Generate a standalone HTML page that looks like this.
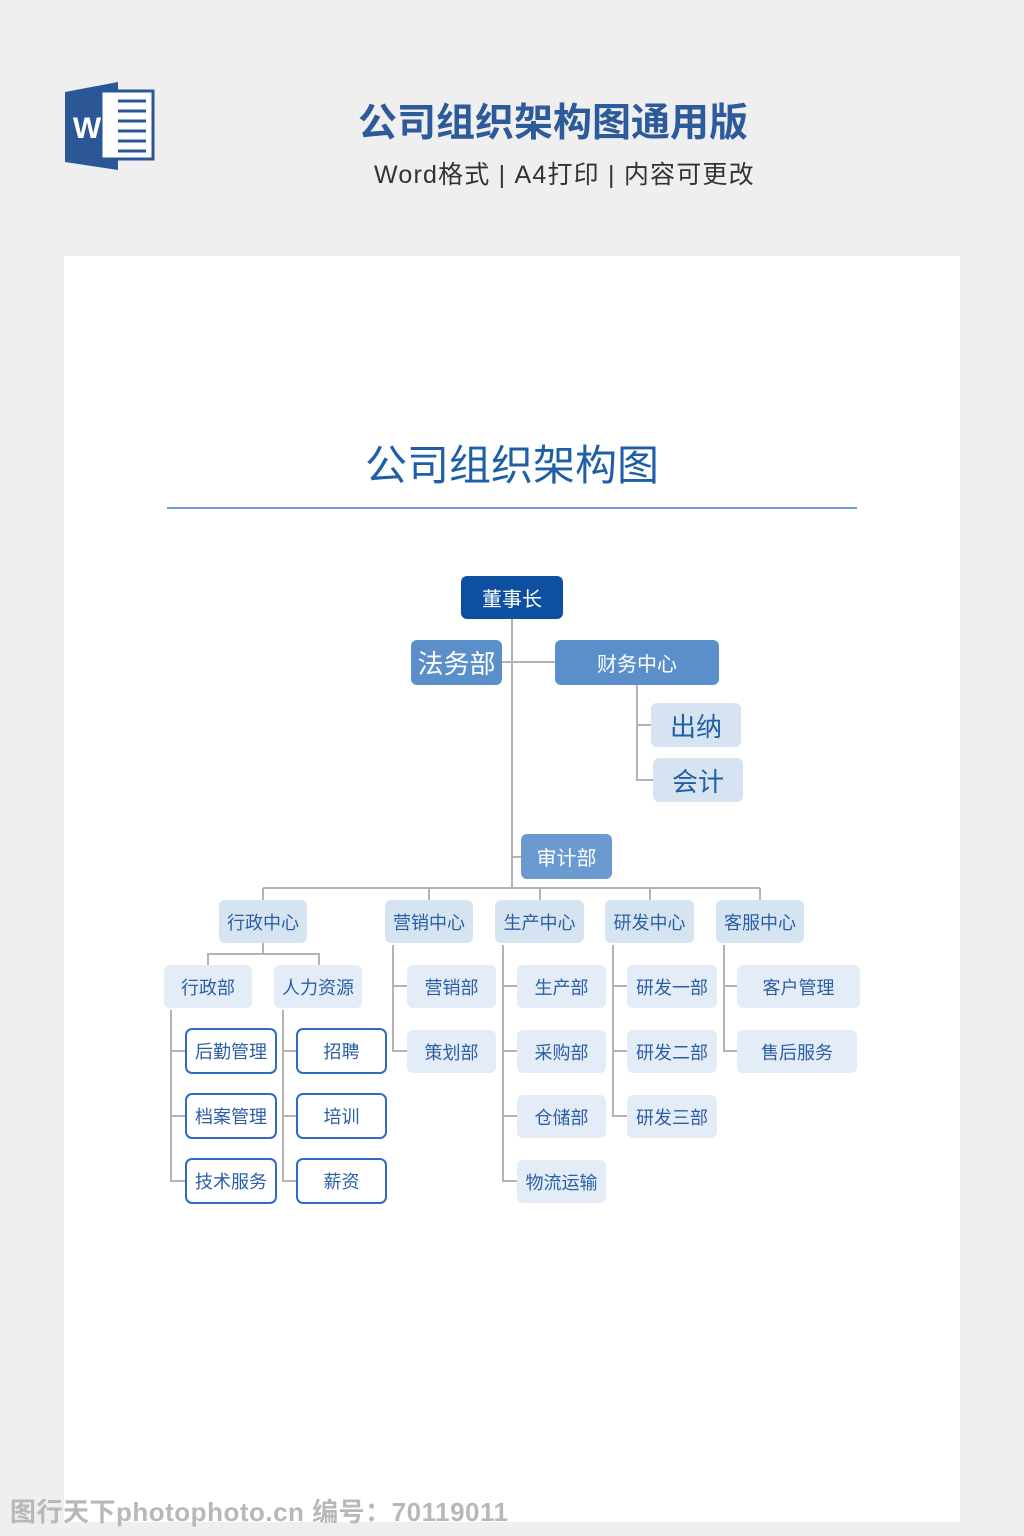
<!DOCTYPE html>
<html><head><meta charset="utf-8"><style>
*{margin:0;padding:0;box-sizing:border-box}
body{width:1024px;height:1536px;background:#efefef;position:relative;overflow:hidden;font-family:"Liberation Sans","Noto Sans CJK SC",sans-serif}
.a{position:absolute}
.b{position:absolute;display:flex;align-items:center;justify-content:center;border-radius:6px;font-size:18px;white-space:nowrap}
.c{background:#d6e4f2;color:#2b5fa5}
.l{background:#e4edf7;color:#2b5fa5}
.o{background:#fff;border:2px solid #2f6cc0;color:#2b5fa5;border-radius:7px}
</style></head><body>
<svg class="a" style="left:0;top:0" width="1024" height="1536">
<polygon points="65,92 118,82 118,170 65,162" fill="#2b5797"/>
<rect x="101" y="91" width="52" height="68" fill="#fff" stroke="#2b5797" stroke-width="3"/>
<g stroke="#2b5797" stroke-width="3"><line x1="118" y1="101" x2="146" y2="101"/><line x1="118" y1="111" x2="146" y2="111"/><line x1="118" y1="121" x2="146" y2="121"/><line x1="118" y1="131" x2="146" y2="131"/><line x1="118" y1="141" x2="146" y2="141"/><line x1="118" y1="151" x2="146" y2="151"/></g>
<text x="87" y="138" font-family="Liberation Sans" font-weight="bold" font-size="30" fill="#fff" text-anchor="middle">W</text>
<rect x="64" y="256" width="896" height="1266" fill="#fff"/>
<line x1="167" y1="508" x2="857" y2="508" stroke="#3b7cc4" stroke-width="1.5"/>
<g stroke="#b4b4b4" stroke-width="2" fill="none">
<line x1="512" y1="619" x2="512" y2="888"/>
<line x1="502" y1="662" x2="555" y2="662"/>
<polyline points="637,685 637,780 653,780"/><line x1="637" y1="725" x2="651" y2="725"/>
<line x1="512" y1="857" x2="521" y2="857"/>
<line x1="263" y1="888" x2="760" y2="888"/>
<line x1="263" y1="888" x2="263" y2="900"/><line x1="429" y1="888" x2="429" y2="900"/><line x1="540" y1="888" x2="540" y2="900"/><line x1="650" y1="888" x2="650" y2="900"/><line x1="760" y1="888" x2="760" y2="900"/>
<line x1="263" y1="943" x2="263" y2="954"/><polyline points="208,965 208,954 319,954 319,965"/>
<polyline points="393,945 393,1051 407,1051"/><line x1="393" y1="986" x2="407" y2="986"/>
<polyline points="503,945 503,1181 517,1181"/><line x1="503" y1="986" x2="517" y2="986"/><line x1="503" y1="1051" x2="517" y2="1051"/><line x1="503" y1="1116" x2="517" y2="1116"/>
<polyline points="613,945 613,1116 627,1116"/><line x1="613" y1="986" x2="627" y2="986"/><line x1="613" y1="1051" x2="627" y2="1051"/>
<polyline points="724,945 724,1051 737,1051"/><line x1="724" y1="986" x2="737" y2="986"/>
<polyline points="171,1010 171,1181 185,1181"/><line x1="171" y1="1051" x2="185" y2="1051"/><line x1="171" y1="1116" x2="185" y2="1116"/>
<polyline points="283,1010 283,1181 296,1181"/><line x1="283" y1="1051" x2="296" y2="1051"/><line x1="283" y1="1116" x2="296" y2="1116"/>
</g>
</svg>
<div class="a" style="left:358px;top:92px;font-size:39px;color:#2c5a9a;font-weight:bold;letter-spacing:0px">公司组织架构图通用版</div>
<div class="a" style="left:374px;top:155px;font-size:25px;color:#333;letter-spacing:1.2px">Word格式 | A4打印 | 内容可更改</div>
<div class="a" style="left:0;width:1024px;text-align:center;top:432px;font-size:42px;color:#1f5fa8">公司组织架构图</div>

<div class="b" style="left:461px;top:576px;width:102px;height:43px;background:#0d4fa0;color:#fff;font-size:20px">董事长</div>
<div class="b" style="left:411px;top:640px;width:91px;height:45px;background:#5b8fca;color:#fff;font-size:26px">法务部</div>
<div class="b" style="left:555px;top:640px;width:164px;height:45px;background:#5b8fca;color:#fff;font-size:20px">财务中心</div>
<div class="b c" style="left:651px;top:703px;width:90px;height:44px;font-size:26px;color:#1f5fa8">出纳</div>
<div class="b c" style="left:653px;top:758px;width:90px;height:44px;font-size:26px;color:#1f5fa8">会计</div>
<div class="b" style="left:521px;top:834px;width:91px;height:45px;background:#6a9ad0;color:#fff;font-size:20px">审计部</div>

<div class="b c" style="left:219px;top:900px;width:88px;height:43px">行政中心</div>
<div class="b c" style="left:385px;top:900px;width:88px;height:43px">营销中心</div>
<div class="b c" style="left:495px;top:900px;width:89px;height:43px">生产中心</div>
<div class="b c" style="left:605px;top:900px;width:89px;height:43px">研发中心</div>
<div class="b c" style="left:716px;top:900px;width:88px;height:43px">客服中心</div>

<div class="b l" style="left:164px;top:965px;width:88px;height:43px">行政部</div>
<div class="b l" style="left:274px;top:965px;width:88px;height:43px">人力资源</div>
<div class="b l" style="left:407px;top:965px;width:89px;height:43px">营销部</div>
<div class="b l" style="left:407px;top:1030px;width:89px;height:43px">策划部</div>
<div class="b l" style="left:517px;top:965px;width:89px;height:43px">生产部</div>
<div class="b l" style="left:517px;top:1030px;width:89px;height:43px">采购部</div>
<div class="b l" style="left:517px;top:1095px;width:89px;height:43px">仓储部</div>
<div class="b l" style="left:517px;top:1160px;width:89px;height:43px">物流运输</div>
<div class="b l" style="left:627px;top:965px;width:90px;height:43px">研发一部</div>
<div class="b l" style="left:627px;top:1030px;width:90px;height:43px">研发二部</div>
<div class="b l" style="left:627px;top:1095px;width:90px;height:43px">研发三部</div>
<div class="b l" style="left:737px;top:965px;width:123px;height:43px">客户管理</div>
<div class="b l" style="left:737px;top:1030px;width:120px;height:43px">售后服务</div>

<div class="b o" style="left:185px;top:1028px;width:92px;height:46px">后勤管理</div>
<div class="b o" style="left:185px;top:1093px;width:92px;height:46px">档案管理</div>
<div class="b o" style="left:185px;top:1158px;width:92px;height:46px">技术服务</div>
<div class="b o" style="left:296px;top:1028px;width:91px;height:46px">招聘</div>
<div class="b o" style="left:296px;top:1093px;width:91px;height:46px">培训</div>
<div class="b o" style="left:296px;top:1158px;width:91px;height:46px">薪资</div>

<div class="a" style="left:10px;top:1492px;font-size:26px;color:#b8b8b8;font-weight:bold;letter-spacing:0.5px">图行天下photophoto.cn 编号：70119011</div>
</body></html>
